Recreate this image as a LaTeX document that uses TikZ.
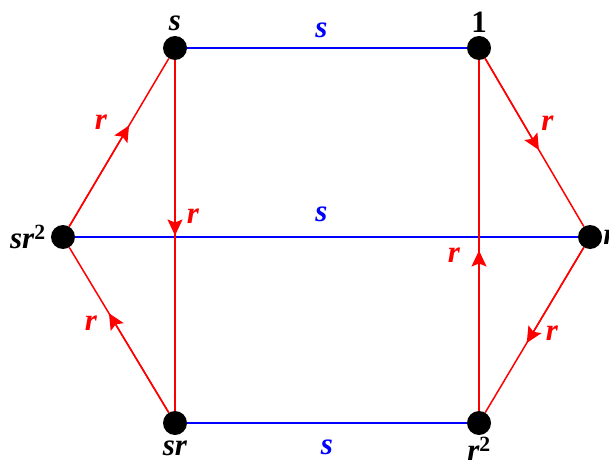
\documentclass[tikz,border=0pt]{standalone}
\usepackage{fontspec}
\setmainfont{Liberation Serif}
\definecolor{cayred}{RGB}{255, 0, 0}
\definecolor{cayblue}{RGB}{0, 0, 255}
\usetikzlibrary{arrows.meta, positioning, calc}
\tikzset{
  vertex/.style={circle, fill=black, minimum size=24pt, inner sep=0pt},
  vlabel/.style={font=\fontsize{31}{33}\selectfont\bfseries\itshape, inner sep=0pt, text=black},
  elabel/.style={font=\fontsize{31}{33}\selectfont\bfseries\itshape, inner sep=0pt},
  bedge/.style={cayblue, line width=1.5pt},
  redge/.style={cayred, line width=1.5pt},
  rtip/.style={cayred, line width=1.5pt, -{Stealth[length=16pt, width=15pt, inset=3pt]}},
}
\begin{document}
\begin{tikzpicture}[x=1pt, y=-1pt]
  \useasboundingbox (0,0) rectangle (609,462);

  % Vertices
  \node[vertex, label={[vlabel, label distance=5pt]above:s}] (s) at (175,48) {};
  \node[vertex, label={[vlabel, label distance=3pt]above:\upshape 1}] (e) at (479,48) {};
  \node[vertex, label={[vlabel, label distance=5pt]left:sr\textsuperscript{\upshape 2}}] (sr2) at (63,237) {};
  \node[vertex, label={[vlabel, label distance=1pt]right:r}] (r) at (590,237) {};
  \node[vertex, label={[vlabel, label distance=5pt]below:sr}] (sr) at (175,423) {};
  \node[vertex, label={[vlabel, label distance=1.5pt]below:r\textsuperscript{\upshape 2}}] (r2) at (479,423) {};

  % s-edges
  \draw[bedge] (s) -- (e) node[elabel, midway, xshift=-5.5pt, yshift=18pt] {s};
  \draw[bedge] (sr2) -- (r) node[elabel, midway, xshift=-5pt, yshift=23pt] {s};
  \draw[bedge] (sr) -- (r2) node[elabel, midway, yshift=-24pt] {s};

  % r-edges
  \draw[redge] (sr2) -- (s) node[elabel, midway, xshift=-18pt, yshift=20.5pt] {r};
  \draw[redge] (s) -- (sr) node[elabel, midway, xshift=18pt, yshift=19.5pt] {r};
  \draw[redge] (e) -- (r) node[elabel, midway, xshift=13pt, yshift=19.5pt] {r};
  \draw[redge] (r) -- (r2) node[elabel, midway, xshift=17.5pt, yshift=-3pt] {r};
  \draw[redge] (r2) -- (e) node[elabel, midway, xshift=-25pt, yshift=-19.5pt] {r};
  \draw[redge] (sr) -- (sr2) node[elabel, midway, xshift=-28pt, yshift=7pt] {r};

  % arrow heads
  \draw[rtip] (sr2) -- ($(sr2)!0.59!(s)$);
  \draw[rtip] (s) -- ($(s)!0.5!(sr)$);
  \draw[rtip] (e) -- ($(e)!0.54!(r)$);
  \draw[rtip] (r) -- ($(r)!0.57!(r2)$);
  \draw[rtip] (r2) -- ($(r2)!0.46!(e)$);
  \draw[rtip] (sr) -- ($(sr)!0.59!(sr2)$);
\end{tikzpicture}
\end{document}
